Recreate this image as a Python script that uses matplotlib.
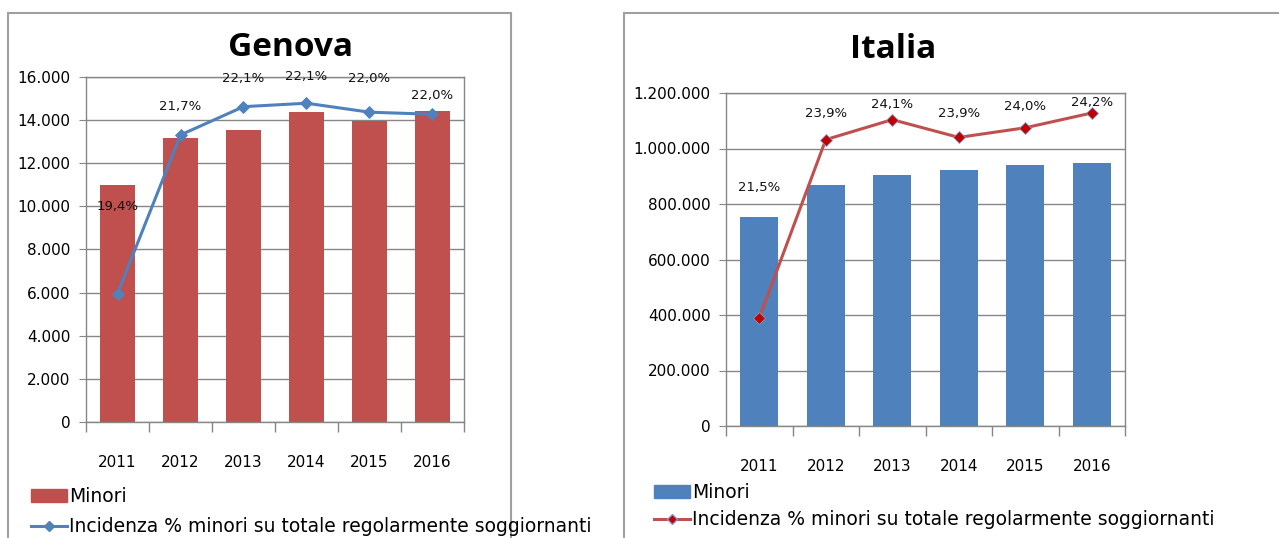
import numpy as np
import matplotlib.pyplot as plt
from matplotlib.patches import Rectangle
from matplotlib.lines import Line2D
from matplotlib.ticker import FuncFormatter, MultipleLocator

plt.rcParams["font.family"] = ["DejaVu Sans"]

# dati
anni = ["2011", "2012", "2013", "2014", "2015", "2016"]
genova_minori = [11000, 13170, 13540, 14380, 13960, 14420]
genova_incidenza = [19.36, 21.66, 22.07, 22.12, 21.99, 21.96]
italia_minori = [753000, 868000, 905000, 922000, 941000, 948000]
italia_incidenza = [21.46, 23.87, 24.14, 23.90, 24.03, 24.23]

# spostamento etichette (pixel sopra il punto)
genova_off = [87, 28, 28, 27, 34, 19]
italia_off = [130, 26, 15, 24, 21, 10]

ROSSO = "#C0504D"
BLU = "#4F81BD"
GRIGIO = "#868686"

W, H = 1279, 538
fig = plt.figure(figsize=(W / 100, H / 100), dpi=100)


def migliaia(v, pos):
    return f"{int(v):,}".replace(",", ".")


def pannello(rect, valori, incid, offs, col_bar, col_line, mk_face, mk_edge,
             ymax, ystep, sec_lim, titolo, tx, ty, leg_xy, leg_sp):
    ax = fig.add_axes(rect)
    x = np.arange(len(anni))
    ax.bar(x, valori, width=0.57, color=col_bar, zorder=2)
    ax.set_xlim(-0.5, len(anni) - 0.5)
    ax.set_ylim(0, ymax)
    ax.yaxis.set_major_locator(MultipleLocator(ystep))
    ax.yaxis.set_major_formatter(FuncFormatter(migliaia))
    ax.grid(axis="y", color=GRIGIO, linewidth=1, zorder=0)
    ax.set_xticks(x)
    ax.set_xticklabels(anni)
    ax.set_xticks(np.arange(-0.5, len(anni)), minor=True)
    ax.tick_params(axis="x", which="major", length=0, pad=24, labelsize=11)
    ax.tick_params(axis="x", which="minor", length=7, color=GRIGIO, width=1)
    ax.tick_params(axis="y", length=5, color=GRIGIO, labelsize=11, pad=6)
    for s in ax.spines.values():
        s.set_color(GRIGIO)
        s.set_linewidth(1)

    ax2 = ax.twinx()
    ax2.set_ylim(*sec_lim)
    ax2.axis("off")
    ax2.plot(x, incid, color=col_line, linewidth=2.2, marker="D", markersize=6,
             markerfacecolor=mk_face, markeredgecolor=mk_edge, markeredgewidth=0.6,
             zorder=3)
    for xi, v, o in zip(x, incid, offs):
        ax2.annotate(f"{v:.1f}%".replace(".", ","), (xi, v), xytext=(0, o * 0.72),
                     textcoords="offset points", ha="center", va="center",
                     fontsize=9.5, color="#111111")

    fig.text(tx / W, 1 - ty / H, titolo, ha="center", va="center",
             fontsize=24, fontweight="bold", family="Open Sans")

    handles = [Rectangle((0, 0), 1, 1, color=col_bar),
               Line2D([0], [0], color=col_line, linewidth=2.2, marker="D",
                      markersize=5, markerfacecolor=mk_face, markeredgecolor=mk_edge)]
    fig.legend(handles, ["Minori", "Incidenza % minori su totale regolarmente soggiornanti"],
               loc="upper left", bbox_to_anchor=(leg_xy[0] / W, 1 - leg_xy[1] / H),
               frameon=False, fontsize=13.5, handlelength=1.9, handleheight=0.75,
               handletextpad=0.15, labelspacing=leg_sp, borderaxespad=0, borderpad=0)


pannello([86 / W, 1 - 422 / H, 378 / W, 345 / H], genova_minori, genova_incidenza,
         genova_off, ROSSO, BLU, BLU, BLU, 16000, 2000, (17.5, 22.5),
         "Genova", 290, 47, (31, 487), 0.6)
pannello([726 / W, 1 - 426 / H, 399 / W, 333 / H], italia_minori, italia_incidenza,
         italia_off, BLU, ROSSO, "#C00000", "#7F9CC8", 1200000, 200000, (20.0, 24.5),
         "Italia", 893, 50, (654, 483), 0.45)

# cornici dei due grafici
fig.patches.append(Rectangle((8 / W, -0.05), 503 / W, 1 - 13 / H + 0.05,
                             transform=fig.transFigure, fill=False,
                             edgecolor="#A0A0A0", linewidth=1.5))
fig.patches.append(Rectangle((624 / W, -0.05), 700 / W, 1 - 13 / H + 0.05,
                             transform=fig.transFigure, fill=False,
                             edgecolor="#A0A0A0", linewidth=1.5))

fig.savefig("out.png", dpi=100)
